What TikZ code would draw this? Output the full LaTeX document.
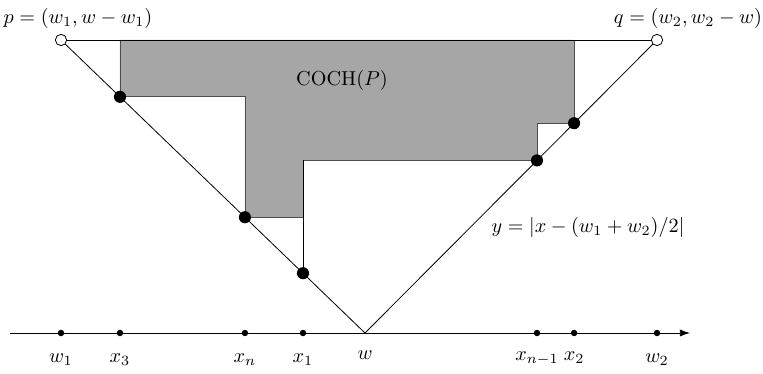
\documentclass[tikz,border=0pt]{standalone}
\usepackage{amsmath, amssymb}
\usepackage{xcolor}
\usetikzlibrary{calc,arrows.meta}

\begin{document}
\begin{tikzpicture}[x=0.0174cm,y=-0.0174cm]
 \useasboundingbox (0,0) rectangle (763,374);
 \coordinate (O) at (10,333);
 \coordinate (E) at (690,333);
 \coordinate (W) at (365,333);
 \coordinate (P) at (61,40);
 \coordinate (Q) at (657,40);
 \coordinate (X3) at ($(P)!0.194!(W)$);
 \coordinate (Xn) at ($(P)!0.605!(W)$);
 \coordinate (X1) at ($(P)!0.796!(W)$);
 \coordinate (Xm) at ($(W)!0.589!(Q)$);
 \coordinate (X2) at ($(W)!0.716!(Q)$);
 % the hull
 \filldraw[fill=black!35,draw=black!70,thin] (X3|-P)--(X2|-Q)--(X2)--(Xm|-X2)--(Xm)
        --(X1|-Xm)--(X1|-Xn)--(Xn)--(Xn|-X3)--(X3)--cycle;
 \draw[thin] (X1|-Xm)--(X1);
 \node (coch) at (342,80) {$\mathrm{COCH}(P)$};
 % the wedge
 \draw[thin] (P)--(Q);
 \draw[thin] (P)--(W)--(Q);
 \draw[thin,-{Latex[length=5pt,width=3.5pt]}] (O)--(E);
 \draw[thin,fill=white] (P) circle (2.8pt);
 \draw[thin,fill=white] (Q) circle (2.8pt);
 \node (plab) at (78,18) {$p=(w_1,w-w_1)$};
 \node (qlab) at (688,18) {$q=(w_2,w_2-w)$};
 \node (ylab) at (588,227) {$y=|x-(w_1+w_2)/2|$};
 % points of P
 \fill (X3) circle (3pt);
 \fill (Xn) circle (3pt);
 \fill (X1) circle (3pt);
 \fill (Xm) circle (3pt);
 \fill (X2) circle (3pt);
 % points on the line
 \fill (P|-W) circle (1.6pt);
 \fill (X3|-W) circle (1.6pt);
 \fill (Xn|-W) circle (1.6pt);
 \fill (X1|-W) circle (1.6pt);
 \fill (Xm|-W) circle (1.6pt);
 \fill (X2|-W) circle (1.6pt);
 \fill (Q|-W) circle (1.6pt);
 \node[anchor=base] (lw1) at ($(P|-W)+(0,29)$) {$w_1$};
 \node[anchor=base] (lx3) at ($(X3|-W)+(0,29)$) {$x_3$};
 \node[anchor=base] (lxn) at ($(Xn|-W)+(0,29)$) {$x_n$};
 \node[anchor=base] (lx1) at ($(X1|-W)+(0,29)$) {$x_1$};
 \node[anchor=base] (lw) at ($(W)+(0,26)$) {$w$};
 \node[anchor=base] (lxm) at ($(Xm|-W)+(0,27)$) {$x_{n-1}$};
 \node[anchor=base] (lx2) at ($(X2|-W)+(0,27)$) {$x_2$};
 \node[anchor=base] (lw2) at ($(Q|-W)+(0,29)$) {$w_2$};
\end{tikzpicture}
\end{document}
